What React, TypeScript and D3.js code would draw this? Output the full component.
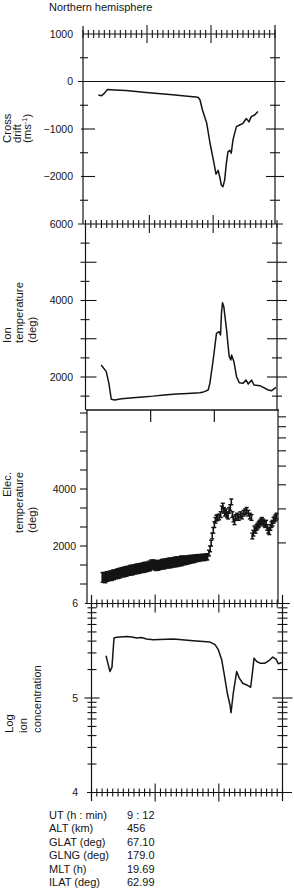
import React, { useEffect } from "react";
import * as d3 from "d3";

// ---------------- data ----------------
const title = "Northern hemisphere";

// time in seconds from the left edge of each panel (3 major divisions of 60 s)
const driftTime = [14.4, 17.5, 20, 22.8, 30, 40, 50, 56.6, 70, 84, 98, 106, 108.1, 109.7, 112, 116, 119.1, 122.2, 124.7, 126.7, 128.1, 129.7, 131.2, 132.8, 134.4, 135.9, 137.5, 139, 140.6, 143.8, 146.9, 150, 153.1, 155.6, 157.8, 160.9, 164];
const driftValue = [-284, -298, -250, -168, -178, -192, -210, -226, -252, -280, -308, -326, -335, -390, -600, -880, -1300, -1650, -1950, -1870, -2000, -2180, -2215, -2075, -1720, -1480, -1450, -1510, -1230, -950, -915, -880, -780, -850, -740, -705, -630];

const ionTempTime = [14.8, 19.5, 22, 24.2, 27.3, 34, 44.6, 54, 63.4, 74, 85.5, 96, 107.4, 111, 115.3, 116.9, 120, 123.1, 125.6, 126.9, 127.9, 128.8, 130, 132.6, 135, 136.6, 137.3, 139.5, 142, 144.5, 148.2, 150.8, 153, 156.1, 158.3, 163.9, 171.8, 175, 179];
const ionTempValue = [2314, 2140, 1835, 1420, 1400, 1430, 1460, 1480, 1500, 1530, 1555, 1570, 1590, 1610, 1660, 1835, 2444, 3142, 3185, 3098, 3707, 3943, 3839, 3229, 2549, 2444, 2575, 2400, 2008, 1852, 1835, 1922, 1817, 1922, 1791, 1774, 1660, 1642, 1730];

const elecTempTime = [15, 17, 19, 21, 23, 25, 27, 29, 31, 33, 35, 37, 39, 41, 43, 45, 47, 49, 51, 53, 55, 57, 59, 61, 63, 65, 67, 69, 71, 73, 75, 77, 79, 81, 83, 85, 87, 89, 91, 93, 95, 97, 99, 101, 103, 105, 107, 109, 111, 113,
  115, 116, 117, 118, 119, 120, 121, 122, 123, 124.5, 126, 127, 128, 129, 130, 131, 132, 133, 134, 135, 136, 137, 138, 139, 140, 141.5, 143, 144.5, 146, 147.5, 149, 150.5, 152, 153.5, 155,
  155.8, 156.8, 157.8, 158.8, 159.8, 160.8, 161.8, 162.8, 163.8, 164.8, 165.8, 166.8, 167.8, 168.8, 169.8, 170.8, 171.8, 172.8, 173.8, 174.8, 175.8, 176.8, 177.8, 178.6];
const elecTempValue = [900, 890, 930, 950, 960, 990, 1010, 1030, 1050, 1080, 1090, 1110, 1130, 1150, 1160, 1180, 1200, 1210, 1230, 1240, 1260, 1270, 1300, 1340, 1350, 1310, 1320, 1340, 1360, 1370, 1390, 1400, 1410, 1420, 1440, 1450, 1460, 1480, 1490, 1500, 1510, 1530, 1540, 1550, 1570, 1580, 1590, 1600, 1600, 1620,
  1750, 1900, 2100, 2350, 2550, 2750, 2900, 2980, 3000, 3020, 3100, 3300, 3400, 3250, 3150, 3200, 3100, 3050, 3250, 3350, 3550, 3100, 2950, 2850, 3000, 3050, 3000, 3100, 3050, 3150, 3200, 3250, 3150, 3050, 3000,
  2350, 2450, 2600, 2550, 2650, 2700, 2750, 2800, 2850, 2900, 2850, 2800, 2750, 2800, 2650, 2550, 2500, 2650, 2750, 2800, 2900, 2950, 3000, 3050];
const elecTempErr = [170, 180, 170, 160, 170, 170, 160, 170, 170, 160, 170, 170, 160, 170, 170, 160, 170, 170, 160, 170, 170, 160, 170, 170, 160, 170, 170, 160, 170, 170, 160, 170, 170, 160, 170, 170, 160, 170, 150, 150, 140, 140, 130, 130, 120, 120, 110, 110, 110, 110,
  100, 100, 100, 100, 100, 100, 100, 100, 100, 100, 100, 100, 100, 100, 100, 100, 100, 100, 100, 100, 100, 100, 100, 100, 100, 100, 100, 100, 100, 100, 100, 100, 100, 100, 100,
  100, 100, 100, 100, 100, 100, 100, 100, 100, 100, 100, 100, 100, 100, 100, 100, 100, 100, 100, 100, 100, 100, 100, 100];

const ionConcTime = [13.7, 15.8, 17.4, 19.3, 21.2, 23.7, 33.2, 38, 42.6, 47, 52, 58.2, 77.1, 95.9, 111.7, 116.4, 119.5, 122.7, 124.9, 128, 130.5, 131.5, 133.6, 136.8, 139.3, 142.5, 146.3, 150, 151.6, 153.2, 155.7, 158.8, 163.5, 168.2, 170.8, 173.9, 176, 179.3];
const ionConcValue = [5.447, 5.351, 5.28, 5.327, 5.635, 5.642, 5.652, 5.645, 5.635, 5.64, 5.625, 5.617, 5.624, 5.606, 5.592, 5.564, 5.511, 5.404, 5.262, 5.05, 4.926, 4.844, 5.05, 5.28, 5.21, 5.156, 5.138, 5.114, 5.262, 5.422, 5.386, 5.369, 5.369, 5.404, 5.433, 5.412, 5.362, 5.376];

const driftTickLabels = [1000, 0, -1000, -2000];
const ionTempTickLabels = [6000, 4000, 2000];
const elecTempTickLabels = [4000, 2000];
const ionConcTickLabels = [6, 5, 4];

const infoLabels = ["UT (h : min)", "ALT (km)", "GLAT (deg)", "GLNG (deg)", "MLT (h)", "ILAT (deg)"];
const infoValues = ["9 : 12", "456", "67.10", "179.0", "19.69", "62.99"];

// ---------------- layout ----------------
const FONT = "'Liberation Sans', Arial, Helvetica, sans-serif";
const INK = "#141414";

const x1 = d3.scaleLinear().domain([0, 180]).range([83, 275]);
const x2 = d3.scaleLinear().domain([0, 180]).range([85.5, 277]);
const x3 = d3.scaleLinear().domain([0, 180]).range([87, 278]);
const x4 = d3.scaleLinear().domain([0, 180]).range([91.5, 282.5]);

const y1 = d3.scaleLinear().domain([1000, -3000]).range([34, 224]);
const y2 = d3.scaleLinear().domain([6000, 2000]).range([224, 377]);
const y3 = d3.scaleLinear().domain([0, 4000]).range([603, 489]);
const y3r = d3.scaleLog().domain([1, 10]).range([601, 408]);
const y4 = d3.scaleLinear().domain([4, 6]).range([792.5, 603.5]);

const timeTicks = d3.range(0, 181, 5);
const logMinor = [2, 3, 4, 5, 6, 7, 8, 9];

function hRow(key: string, y: number, xs: any, xa: number, xb: number) {
  return (
    <g key={key}>
      <line x1={xa} x2={xb} y1={y} y2={y} stroke={INK} strokeWidth={1.2} />
      {timeTicks.map((t) => {
        const major = t === 60 || t === 120;
        const h = major ? 9 : 4;
        return <line key={t} x1={xs(t)} x2={xs(t)} y1={y - h} y2={y + h} stroke={INK} strokeWidth={1.1} />;
      })}
    </g>
  );
}

function vTick(key: string, x: number, y: number, a: number, b: number) {
  return <line key={key} x1={x + a} x2={x + b} y1={y} y2={y} stroke={INK} strokeWidth={1.1} />;
}

function vLabel(key: string, parts: { t: string; sup?: string; x: number; y: number }[]) {
  return (
    <g key={key} fontSize={11.3}>
      {parts.map((p, i) => (
        <text key={i} transform={`translate(${p.x},${p.y}) rotate(-90)`} textAnchor="start" fill={INK}>
          {p.t}
          {p.sup ? (
            <>
              <tspan fontSize={7.5} dy={-4}>{p.sup}</tspan>
              <tspan dy={4}>)</tspan>
            </>
          ) : null}
        </text>
      ))}
    </g>
  );
}

export default function App() {
  useEffect(() => {
    document.body.style.margin = "0";
  }, []);

  const driftLine = d3.line<number>().x((_, i) => x1(driftTime[i])).y((d) => y1(d))(driftValue) || "";
  const ionTempLine = d3.line<number>().x((_, i) => x2(ionTempTime[i])).y((d) => y2(d))(ionTempValue) || "";
  const ionConcLine = d3.line<number>().x((_, i) => x4(ionConcTime[i])).y((d) => y4(d))(ionConcValue) || "";

  const p1Ticks = d3.range(-2500, 1000, 500);
  const p2Ticks = d3.range(1500, 6000, 500);
  const p3Ticks = d3.range(1, 11).map((k) => (k * 2000) / 3);
  const p4Ticks = [4, 5].flatMap((d) => logMinor.map((k) => d + Math.log10(k)));

  return (
    <svg width={294} height={891} style={{ position: "absolute", left: 0, top: 0, background: "#fff" }} fontFamily={FONT}>
      <rect width={294} height={891} fill="#fff" />
      <text x={49} y={11} fontSize={11} fill={INK}>{title}</text>

      {/* ---------- Panel 1: cross drift ---------- */}
      <line x1={83} x2={83} y1={26} y2={224} stroke={INK} strokeWidth={1.2} />
      <line x1={275} x2={275} y1={25} y2={224} stroke={INK} strokeWidth={1.2} />
      {hRow("p1top", y1(1000), x1, 83, 275)}
      {p1Ticks.map((v) =>
        v % 1000 === 0 && v !== 0
          ? [vTick("l" + v, 83, y1(v), -2, 12), vTick("r" + v, 275, y1(v), -9, 9)]
          : v === 0
          ? null
          : [vTick("l" + v, 83, y1(v), -3, 5), vTick("r" + v, 275, y1(v), -5, 5)]
      )}
      <line x1={78} x2={285} y1={y1(0)} y2={y1(0)} stroke={INK} strokeWidth={1.2} />
      {driftTickLabels.map((v) => (
        <text key={v} x={73} y={y1(v)} dy="0.35em" textAnchor="end" fontSize={10.5} fill={INK}>
          {v < 0 ? "\u2212" + Math.abs(v) : String(v)}
        </text>
      ))}
      <path d={driftLine} fill="none" stroke={INK} strokeWidth={1.5} strokeLinejoin="round" />
      {vLabel("lab1", [
        { t: "Cross", x: 10.5, y: 143 },
        { t: "drift", x: 20.5, y: 143 },
        { t: "(ms", sup: "-1", x: 31, y: 143 },
      ])}

      {/* ---------- Panel 2: ion temperature ---------- */}
      <line x1={85.5} x2={85.5} y1={224} y2={410} stroke={INK} strokeWidth={1.2} />
      <line x1={277} x2={277} y1={224} y2={410} stroke={INK} strokeWidth={1.2} />
      {hRow("p2top", y2(6000), x2, 78, 283)}
      {p2Ticks.map((v) =>
        v % 1000 === 0
          ? [vTick("l" + v, 85.5, y2(v), -5, 11), vTick("r" + v, 277, y2(v), -10, 10)]
          : [vTick("l" + v, 85.5, y2(v), -5, 4), vTick("r" + v, 277, y2(v), -5, 5)]
      )}
      {ionTempTickLabels.map((v) => (
        <text key={v} x={73} y={y2(v)} dy="0.35em" textAnchor="end" fontSize={10.5} fill={INK}>{v}</text>
      ))}
      <path d={ionTempLine} fill="none" stroke={INK} strokeWidth={1.5} strokeLinejoin="round" />
      {vLabel("lab2", [
        { t: "Ion", x: 10.5, y: 343 },
        { t: "temperature", x: 22.5, y: 343 },
        { t: "(deg)", x: 35.5, y: 343 },
      ])}

      {/* ---------- Panel 3: electron temperature ---------- */}
      <line x1={86} x2={279} y1={410} y2={410} stroke={INK} strokeWidth={1.3} />
      <line x1={87} x2={87} y1={410} y2={603} stroke={INK} strokeWidth={1.2} />
      <line x1={278} x2={278} y1={410} y2={603} stroke={INK} strokeWidth={1.2} />
      {[60, 120].map((t) => (
        <line key={t} x1={x3(t)} x2={x3(t)} y1={410} y2={422} stroke={INK} strokeWidth={1.2} />
      ))}
      {p3Ticks.map((v) => vTick("l" + v, 87, y3(v), -7, 0))}
      {logMinor.map((k) => vTick("r" + k, 278, y3r(k), 0, 8))}
      {elecTempTickLabels.map((v) => (
        <text key={v} x={76} y={y3(v)} dy="0.35em" textAnchor="end" fontSize={10.5} fill={INK}>{v}</text>
      ))}
      <g stroke={INK}>
        {elecTempValue.map((v, i) => {
          const cx = x3(elecTempTime[i]);
          const top = y3(v + elecTempErr[i]);
          const bot = y3(v - elecTempErr[i]);
          const band = elecTempTime[i] < 114;
          const cw = band ? 2.4 : 2;
          return (
            <g key={i}>
              <line x1={cx} x2={cx} y1={top} y2={bot} strokeWidth={band ? 3 : 1.6} />
              <line x1={cx - cw} x2={cx + cw} y1={top} y2={top} strokeWidth={1.4} />
              <line x1={cx - cw} x2={cx + cw} y1={bot} y2={bot} strokeWidth={1.4} />
            </g>
          );
        })}
      </g>
      {vLabel("lab3", [
        { t: "Elec.", x: 10.5, y: 497 },
        { t: "temperature", x: 23, y: 533 },
        { t: "(deg)", x: 36, y: 533 },
      ])}

      {/* ---------- Panel 4: log ion concentration ---------- */}
      <line x1={91.5} x2={91.5} y1={595} y2={801} stroke={INK} strokeWidth={1.2} />
      <line x1={282.5} x2={282.5} y1={595} y2={801} stroke={INK} strokeWidth={1.2} />
      {hRow("p4top", y4(6), x4, 85, 290)}
      {hRow("p4bot", y4(4), x4, 87, 292)}
      {p4Ticks.map((v) => [vTick("l" + v, 91.5, y4(v), -4, 5), vTick("r" + v, 282.5, y4(v), -5, 5)])}
      {vTick("l5", 91.5, y4(5), -7, 8)}
      {vTick("r5", 282.5, y4(5), -10, 10)}
      {ionConcTickLabels.map((v) => (
        <text key={v} x={78} y={y4(v)} dy="0.35em" textAnchor="end" fontSize={10.5} fill={INK}>{v}</text>
      ))}
      <path d={ionConcLine} fill="none" stroke={INK} strokeWidth={1.5} strokeLinejoin="round" />
      {vLabel("lab4", [
        { t: "Log", x: 13, y: 733 },
        { t: "ion", x: 27, y: 733 },
        { t: "concentration", x: 41, y: 733 },
      ])}

      {/* ---------- info table ---------- */}
      {infoLabels.map((l, i) => (
        <g key={l} fontSize={11} fill={INK}>
          <text x={49} y={818.5 + i * 13.5}>{l}</text>
          <text x={127} y={818.5 + i * 13.5}>{infoValues[i]}</text>
        </g>
      ))}
    </svg>
  );
}
